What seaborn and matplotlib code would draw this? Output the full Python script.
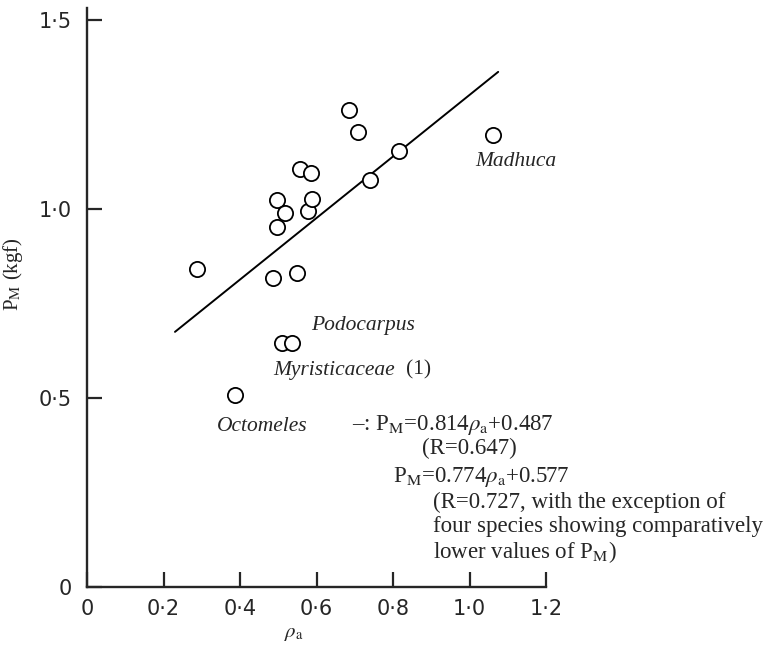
import numpy as np
import pandas as pd
import matplotlib
matplotlib.use("Agg")
import matplotlib.pyplot as plt
import seaborn as sns

# Air-dry density (rho_a) and maximum load P_M (kgf) per species
rho_a = [0.287, 0.487, 0.548, 0.498, 0.498, 0.518, 0.579, 0.589, 0.557,
         0.586, 0.686, 0.709, 0.740, 0.816, 1.062, 0.511, 0.537, 0.388]
p_m = [0.840, 0.818, 0.829, 0.952, 1.023, 0.990, 0.994, 1.026, 1.104,
       1.094, 1.262, 1.202, 1.076, 1.153, 1.195, 0.645, 0.645, 0.507]

# Regression over all species: P_M = 0.814 rho_a + 0.487
slope, intercept = 0.814, 0.487
fit_range = [0.23, 1.075]

x_ticks = [0, 0.2, 0.4, 0.6, 0.8, 1.0, 1.2]
x_tick_labels = ["0", "0·2", "0·4", "0·6", "0·8", "1·0", "1·2"]
y_ticks = [0, 0.5, 1.0, 1.5]
y_tick_labels = ["0", "0·5", "1·0", "1·5"]

species_labels = ["Madhuca", "Podocarpus", "Myristicaceae", "Octomeles"]

sns.set_style("ticks")
plt.rcParams["font.family"] = ["Liberation Serif", "DejaVu Serif"]
plt.rcParams["mathtext.fontset"] = "stix"

fig = plt.figure(figsize=(7.7, 6.46), dpi=100)
ax = fig.add_axes([87 / 770, 59.3 / 646, 459 / 770, 578.3 / 646])

df = pd.DataFrame({"rho_a": rho_a, "P_M": p_m})
sns.scatterplot(data=df, x="rho_a", y="P_M", ax=ax, s=120, marker="o",
                facecolor="white", edgecolor="black", linewidth=1.3, zorder=3)

fit_x = np.array(fit_range)
fit_df = pd.DataFrame({"x": fit_x, "y": slope * fit_x + intercept})
sns.lineplot(data=fit_df, x="x", y="y", ax=ax, color="black", linewidth=1.4, zorder=2)

ax.set_xlim(0, 1.2)
ax.set_ylim(0, 1.53)
sns.despine(ax=ax)
for side in ("left", "bottom"):
    ax.spines[side].set_linewidth(1.7)

tick_font = {"family": "DejaVu Sans", "size": 15}
ax.set_xticks(x_ticks)
ax.set_xticklabels(x_tick_labels, fontdict=tick_font)
ax.set_yticks(y_ticks)
ax.set_yticklabels(y_tick_labels, fontdict=tick_font)
ax.tick_params(axis="both", direction="in", length=11, width=1.6)
ax.tick_params(axis="x", pad=9)
ax.tick_params(axis="y", pad=11)

ax.set_xlabel(r"$\rho_{\rm a}$", fontsize=15)
ax.xaxis.set_label_coords(0.45, -0.065)
ax.set_ylabel(r"P$_{\rm M}$ (kgf)", fontsize=15)
ax.yaxis.set_label_coords(-0.135, 0.54)

txt = dict(fontsize=15.5, va="center", ha="left")
ax.text(1.014, 1.124, species_labels[0], style="italic", **txt)
ax.text(0.587, 0.692, species_labels[1], style="italic", **txt)
ax.text(0.487, 0.573, species_labels[2], style="italic", **txt)
ax.text(0.833, 0.573, "(1)", **txt)
ax.text(0.339, 0.425, species_labels[3], style="italic", **txt)

eq = dict(fontsize=16.5, va="center", ha="left")
ax.text(0.692, 0.428, r"–: P$_{\rm M}$=0.814$\rho_{\rm a}$+0.487", **eq)
ax.text(0.875, 0.367, "(R=0.647)", **eq)
ax.text(0.801, 0.290, r"P$_{\rm M}$=0.774$\rho_{\rm a}$+0.577", **eq)
ax.text(0.905, 0.224, "(R=0.727, with the exception of", **eq)
ax.text(0.905, 0.158, "four species showing comparatively", **eq)
ax.text(0.905, 0.092, r"lower values of P$_{\rm M}$)", **eq)

fig.savefig("out.png", dpi=100)
